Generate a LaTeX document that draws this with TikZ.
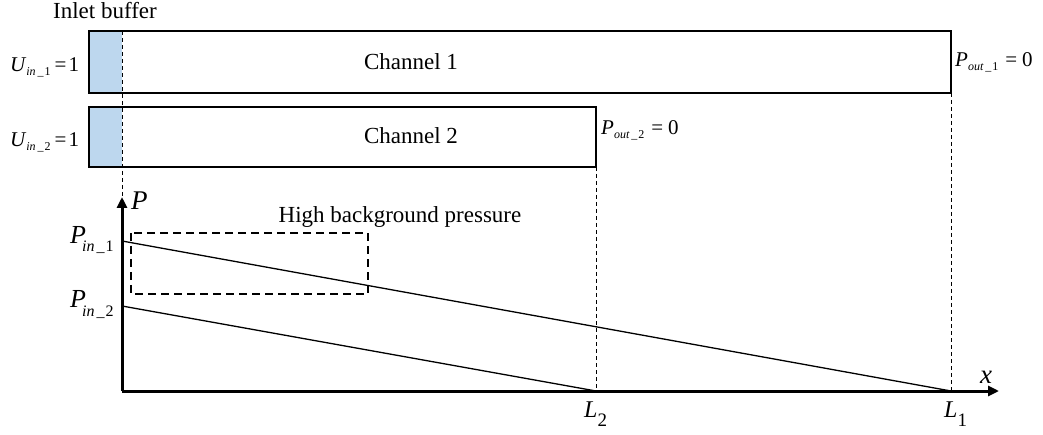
\documentclass[tikz,border=0pt]{standalone}
\usepackage{fontspec}
\setmainfont{Liberation Serif}
\usetikzlibrary{arrows.meta}
\newcommand\fsz[1]{\fontsize{#1}{#1}\selectfont}
\newcommand\subsm[1]{\raisebox{-3.5pt}{\fsz{12}#1}}
\newcommand\subbg[2]{\raisebox{-#1}{\fsz{16}#2}}
\newcommand\msym[1]{{\fsz{21}\itshape #1}}
\begin{document}
\begin{tikzpicture}[x=1pt,y=-1pt,
  box/.style={draw, line width=1.6pt},
  buf/.style={fill=bufblue},
  guide/.style={line width=0.7pt, dash pattern=on 4pt off 3pt},
  axis/.style={line width=3pt, -{Triangle[length=11pt,width=10pt]}},
  pline/.style={line width=1.3pt},
  hbp/.style={line width=1.2pt, dash pattern=on 8pt off 5pt},
  txt/.style={inner sep=0pt, font=\fsz{23}},
  lab/.style={inner sep=0pt, anchor=base west}]
\definecolor{bufblue}{RGB}{189,215,238}
\useasboundingbox (0,0) rectangle (1043,435);
% coordinates
\coordinate (b1nw) at (89,31);  \coordinate (b1se) at (951,93);
\coordinate (b2nw) at (89,107); \coordinate (b2se) at (596,167);
\coordinate (o) at (122,391);
\coordinate (ytip) at (122,197);
\coordinate (xtip) at (999,391);
\coordinate (g1top) at (122,31);
\coordinate (L2) at (596,391);
\coordinate (L1) at (951,391);
\coordinate (L2top) at (596,167);
\coordinate (L1top) at (951,93);
\coordinate (pin1) at (122,241);
\coordinate (pin2) at (122,306);
% buffers
\fill[buf] (89,31) rectangle (122,93);
\fill[buf] (89,107) rectangle (122,167);
% guides
\draw[guide] (g1top) -- (ytip);
\draw[guide] (L2top) -- (L2);
\draw[guide] (L1top) -- (L1);
% boxes
\draw[box] (b1nw) rectangle (b1se);
\draw[box] (b2nw) rectangle (b2se);
% pressure lines
\draw[pline] (pin1) -- (L1);
\draw[pline] (pin2) -- (L2);
\draw[hbp] (131,233) rectangle (368,294);
% axes
\draw[axis] (o) -- (ytip);
\draw[axis] (o) -- (xtip);
% texts
\node[txt] (inlet) at (105,11) {Inlet buffer};
\node[txt] (c1) at (411,62) {Channel 1};
\node[txt] (c2) at (411,136) {Channel 2};
\node[txt, anchor=base] (hb) at (400,223) {High background pressure};
\node[lab] (u1) at (10,72) {\msym{U}\kern1pt\subsm{\itshape in\kern2pt\_\kern1pt\upshape 1}\kern4pt{\fsz{21}=\kern2pt1}};
\node[lab] (u2) at (10,147) {\msym{U}\kern1pt\subsm{\itshape in\kern2pt\_\kern1pt\upshape 2}\kern4pt{\fsz{21}=\kern2pt1}};
\node[lab] (po1) at (955,67) {\msym{P}\subsm{\itshape out\kern2pt\_\kern1pt\upshape 1}\kern7pt{\fsz{21}=\kern5pt0}};
\node[lab] (po2) at (601,135) {\msym{P}\subsm{\itshape out\kern2pt\_\kern1pt\upshape 2}\kern7pt{\fsz{21}=\kern5pt0}};
\node[lab] (pi1) at (70,244) {{\fsz{26}\itshape P}\kern-4pt\subbg{8pt}{\itshape in\kern2pt\_\kern1pt\upshape 1}};
\node[lab] (pi2) at (70,308) {{\fsz{26}\itshape P}\kern-4pt\subbg{9pt}{\itshape in\kern2pt\_\kern1pt\upshape 2}};
\node[lab] (pax) at (131,210) {{\fsz{27}\itshape P}};
\node[lab] (xax) at (980,383) {{\fsz{27}\itshape x}};
\node[lab] (l2) at (584,417) {{\fsz{24}\itshape L}\raisebox{-9pt}{\fsz{19}2}};
\node[lab] (l1) at (944,417) {{\fsz{24}\itshape L}\raisebox{-9pt}{\fsz{19}1}};
\end{tikzpicture}
\end{document}
